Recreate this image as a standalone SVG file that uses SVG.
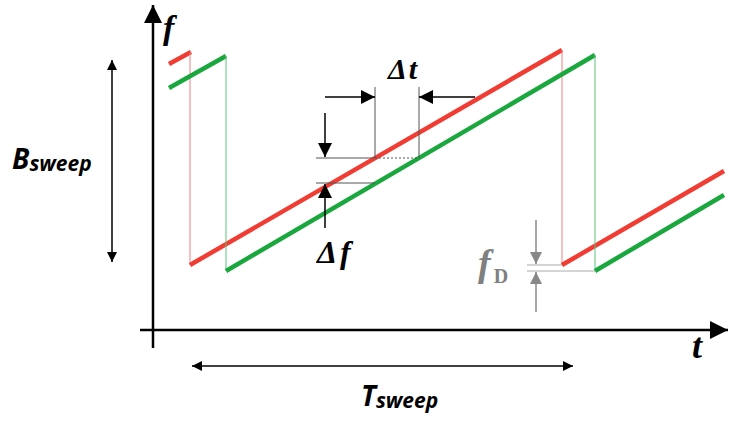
<svg xmlns="http://www.w3.org/2000/svg" width="735" height="423" viewBox="0 0 735 423">
<defs>
<marker id="ah" viewBox="0 0 10 10" refX="10" refY="5" markerWidth="10" markerHeight="10" markerUnits="userSpaceOnUse" orient="auto-start-reverse"><path d="M0,0 L10,5 L0,10 z" fill="#000"/></marker>
<marker id="ahb" viewBox="0 0 10 10" refX="10" refY="5" markerWidth="14" markerHeight="14" markerUnits="userSpaceOnUse" orient="auto"><path d="M0,0 L10,5 L0,10 z" fill="#000"/></marker>
<marker id="axis" viewBox="0 0 10 10" refX="10" refY="5" markerWidth="22" markerHeight="18" markerUnits="userSpaceOnUse" orient="auto"><path d="M0,0 L10,5 L0,10 z" fill="#000"/></marker>
<marker id="ahg" viewBox="0 0 10 10" refX="10" refY="5" markerWidth="12" markerHeight="12" markerUnits="userSpaceOnUse" orient="auto"><path d="M0,0 L10,5 L0,10 z" fill="#888"/></marker>
</defs>
<style>
.axis{stroke:#000;stroke-width:2.5;fill:none}
.red{stroke:#f03c32;stroke-width:4.5;fill:none}
.grn{stroke:#1aa83e;stroke-width:4.5;fill:none}
.redt{stroke:#f08080;stroke-width:1;fill:none}
.grnt{stroke:#5cc27a;stroke-width:1;fill:none}
.thin{stroke:#555;stroke-width:1;fill:none}
.dim{stroke:#000;stroke-width:1.5;fill:none}
.gray{stroke:#888;stroke-width:1.5;fill:none}
.ser{font-family:"Liberation Serif",serif;font-style:italic;font-weight:bold}
.sans{font-family:"Open Sans","Liberation Sans",sans-serif;font-style:italic;font-weight:bold}
</style>
<g id="axes">
<line class="axis" x1="153" y1="348" x2="153" y2="5" marker-end="url(#axis)"/>
<line class="axis" x1="140" y1="330" x2="728" y2="330" marker-end="url(#axis)"/>
<text class="ser" x="163" y="39" font-size="34">f</text>
<text class="ser" x="692" y="358" font-size="36">t</text>
</g>
<g id="red-signal">
<line class="red" x1="169" y1="64" x2="191" y2="52"/>
<line class="redt" x1="190" y1="52" x2="190" y2="265"/>
<line class="red" x1="190" y1="265" x2="562" y2="50"/>
<line class="redt" x1="562" y1="50" x2="562" y2="265"/>
<line class="red" x1="562" y1="265" x2="724" y2="171"/>
</g>
<g id="green-signal">
<line class="grn" x1="169" y1="88" x2="226" y2="56"/>
<line class="grnt" x1="226" y1="56" x2="226" y2="271"/>
<line class="grn" x1="226" y1="271" x2="595" y2="55"/>
<line class="grnt" x1="595" y1="55" x2="595" y2="271"/>
<line class="grn" x1="595" y1="271" x2="724" y2="195"/>
</g>
<g id="connectors">
<line class="thin" x1="375" y1="87" x2="375" y2="158"/>
<line class="thin" x1="419" y1="87" x2="419" y2="158"/>
<line class="dim" x1="325" y1="97" x2="375" y2="97" marker-end="url(#ahb)"/>
<line class="dim" x1="475" y1="97" x2="419" y2="97" marker-end="url(#ahb)"/>
<line class="thin" x1="316" y1="158" x2="375" y2="158"/>
<line class="thin" x1="375" y1="158" x2="419" y2="158" stroke-dasharray="2,2"/>
<line class="thin" x1="316" y1="183" x2="375" y2="183"/>
<line class="dim" x1="325" y1="113" x2="325" y2="157" marker-end="url(#ahb)"/>
<line class="dim" x1="325" y1="228" x2="325" y2="184" marker-end="url(#ahb)"/>
<line x1="527" y1="265" x2="562" y2="265" stroke="#aaa" stroke-width="1"/>
<line x1="527" y1="271" x2="595" y2="271" stroke="#aaa" stroke-width="1"/>
<line class="gray" x1="536" y1="220" x2="536" y2="264" marker-end="url(#ahg)"/>
<line class="gray" x1="536" y1="312" x2="536" y2="272" marker-end="url(#ahg)"/>
<line class="dim" x1="112" y1="60" x2="112" y2="262" marker-start="url(#ah)" marker-end="url(#ah)"/>
<line class="dim" x1="192" y1="366" x2="573" y2="366" marker-start="url(#ah)" marker-end="url(#ah)"/>
</g>
<g id="labels">
<text class="ser" x="388" y="79" font-size="30" letter-spacing="2">Δt</text>
<text class="ser" x="317" y="263" font-size="32" letter-spacing="3">Δf</text>
<text class="ser" x="478" y="276" font-size="38" fill="#808080">f<tspan font-style="normal" font-size="20" dx="3" dy="7">D</tspan></text>
<text class="sans" x="12" y="169" font-size="28">B<tspan font-size="21" dy="2">sweep</tspan></text>
<text class="sans" x="361" y="406" font-size="28">T<tspan font-size="21" dy="2">sweep</tspan></text>
</g>
</svg>
